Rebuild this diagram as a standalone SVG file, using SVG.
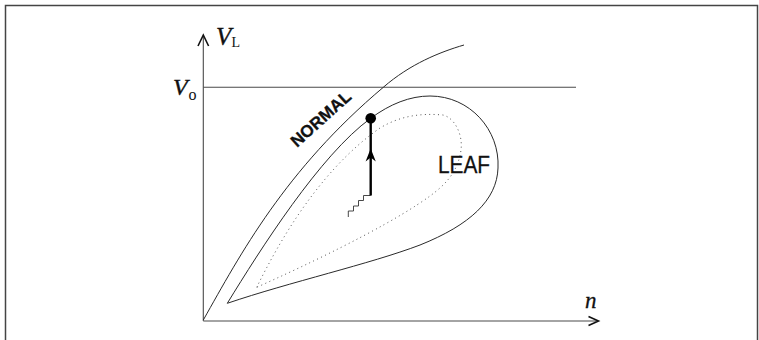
<svg xmlns="http://www.w3.org/2000/svg" width="759" height="340" viewBox="0 0 759 340">
<style>
.ln{fill:none;stroke:#2a2a2a;stroke-width:1}
.ax{fill:none;stroke:#4a4a4a;stroke-width:1.1}
.dot{fill:none;stroke:#555;stroke-width:1;stroke-dasharray:1 3.4}
.serif{font-family:"Liberation Serif","Times New Roman",serif;fill:#111}
.sans{font-family:"Liberation Sans",Arial,sans-serif;fill:#111}
</style>
<rect width="759" height="340" fill="#fff"/>
<g id="frame" fill="none" stroke="#444" stroke-width="1.5">
<path d="M5.5,345 V5.5 H757.5 V345"/>
</g>
<g id="axes">
<path class="ax" d="M203.3,321 V37"/>
<path class="ax" d="M203.3,321 H597"/>
<path d="M198,46 L203.3,35 L208.6,46" fill="none" stroke="#111" stroke-width="1.6"/>
<path d="M588.5,316.5 L598.5,321 L588.5,325.5" fill="none" stroke="#111" stroke-width="1.6"/>
<path class="ax" d="M203.3,87.3 H576"/>
</g>
<g id="normal-curve">
<path class="ln" d="M203.3,320 C240,255 285,170 383.3,87.3 C410,64 440,52 464,45"/>
</g>
<g id="leaf-curve">
<path class="ln" d="M227.3,303.3 C260,250 320,155 370.7,118.3 C390,104 410,96 430,96 C470,96 500,130 498,168 C497,200 470,225 420,245 C370,264 290,282 227.3,303.3 Z"/>
</g>
<g id="inner-dotted">
<path class="dot" d="M256.7,287.3 C280,240 320,170 380,128 C400,116 420,113 443,115 C455,118 463,135 461,150 C458,172 445,185 430,196 C400,218 340,250 256.7,287.3 Z"/>
</g>
<g id="trajectory">
<path d="M348.3,217 V211 H353.5 V206 H358.5 V200.5 H363.5 V195.5 H370.7" fill="none" stroke="#333" stroke-width="0.9"/>
<path d="M370.7,195.5 V118.3" fill="none" stroke="#000" stroke-width="2.4"/>
<path d="M370.7,148.5 L375.8,161.5 L370.7,157.5 L365.6,161.5 Z" fill="#000"/>
<circle cx="370.7" cy="118.3" r="5.3" fill="#000"/>
</g>
<g id="labels">
<text class="serif" x="216" y="45" font-size="25" font-style="italic" stroke="#111" stroke-width="0.4">V</text>
<text class="serif" x="231.5" y="47" font-size="14">L</text>
<text class="serif" x="173" y="95" font-size="24" font-style="italic" stroke="#111" stroke-width="0.4">V</text>
<text class="serif" x="188.5" y="100" font-size="16">o</text>
<text class="serif" x="585" y="308" font-size="23" font-style="italic" stroke="#111" stroke-width="0.3">n</text>
<text class="sans" x="297" y="148" font-size="17" font-weight="bold" stroke="#111" stroke-width="0.3" transform="rotate(-42 297 148)">NORMAL</text>
<text class="sans" x="438" y="173.3" font-size="23" textLength="52" lengthAdjust="spacingAndGlyphs" stroke="#111" stroke-width="0.3">LEAF</text>
</g>
</svg>
